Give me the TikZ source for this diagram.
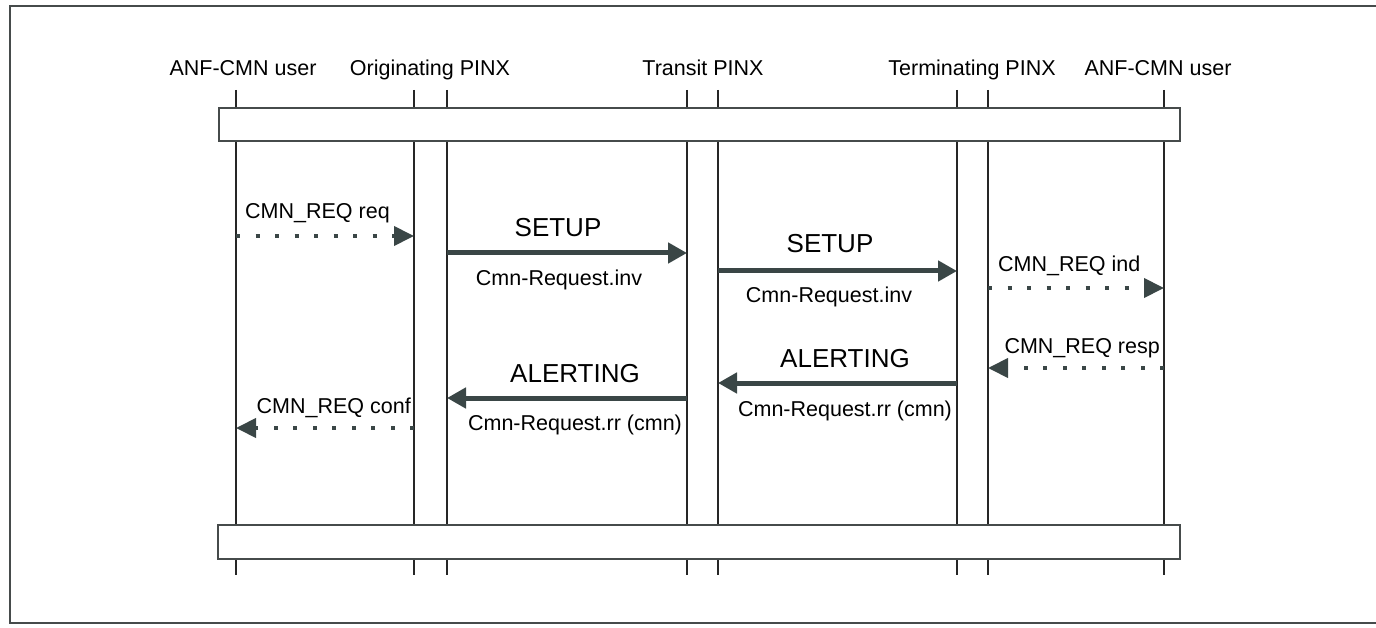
\documentclass[tikz,border=0pt]{standalone}
\usepackage{fontspec}
\setmainfont{Liberation Sans}
\usetikzlibrary{arrows.meta}
\definecolor{arr}{RGB}{58,70,70}
\definecolor{framec}{RGB}{70,75,75}
\begin{document}
\begin{tikzpicture}[x=1pt,y=-1pt,
  lifeline/.style={line width=1.6pt, black!85},
  bar/.style={draw=framec, line width=2.2pt, fill=white},
  msg/.style={draw=arr, line width=5pt, -{Triangle[length=19pt,width=20pt]}},
  dotmsg/.style={draw=arr, line width=4pt, dash pattern=on 4pt off 15.5pt, -{Triangle[length=20pt,width=19pt]}},
  lab/.style={font=\fontsize{21.5}{24}\selectfont, anchor=base, inner sep=0pt},
  big/.style={font=\fontsize{26}{30}\selectfont, anchor=base, inner sep=0pt}]
\useasboundingbox (0,0) rectangle (1376,628);
% frame
\draw[framec, line width=2pt] (1376,6) -- (10,6) -- (10,623) -- (1376,623);
% entity labels
\node[lab] (e1) at (243,76) {ANF-CMN user};
\node[lab] (e2) at (430,76) {Originating PINX};
\node[lab] (e3) at (703,76) {Transit PINX};
\node[lab] (e4) at (972,76) {Terminating PINX};
\node[lab] (e5) at (1158,76) {ANF-CMN user};
% lifelines
\foreach \x/\n in {236/1,414/2,447/3,687/4,718/5,957/6,988/7,1164/8} {
  \coordinate (t\n) at (\x,90);
  \coordinate (b\n) at (\x,575);
  \draw[lifeline] (t\n) -- (b\n);
}
% bars
\draw[bar] (219,108) rectangle (1180,141);
\draw[bar] (218,525) rectangle (1180,559);
% message endpoints
\coordinate (m1a) at (236,236); \coordinate (m1b) at (414,236);
\coordinate (m2a) at (447,253); \coordinate (m2b) at (687,253);
\coordinate (m3a) at (718,271); \coordinate (m3b) at (957,271);
\coordinate (m4a) at (988,288); \coordinate (m4b) at (1164,288);
\coordinate (m5a) at (1164,368); \coordinate (m5b) at (988,368);
\coordinate (m6a) at (957,383); \coordinate (m6b) at (718,383);
\coordinate (m7a) at (687,398); \coordinate (m7b) at (447,398);
\coordinate (m8a) at (414,428); \coordinate (m8b) at (236,428);
% messages
\draw[dotmsg] (m1a) -- (m1b);
\node[lab, anchor=base west] (l1) at (245,219) {CMN\_REQ req};
\draw[msg] (m2a) -- (m2b);
\node[big] (l2) at (558,237) {SETUP};
\node[lab] (l2b) at (559,286) {Cmn-Request.inv};
\draw[msg] (m3a) -- (m3b);
\node[big] (l3) at (830,253) {SETUP};
\node[lab] (l3b) at (829,303) {Cmn-Request.inv};
\draw[dotmsg] (m4a) -- (m4b);
\node[lab, anchor=base west] (l4) at (998,272) {CMN\_REQ ind};
\draw[dotmsg] (m5a) -- (m5b);
\node[lab, anchor=base east] (l5) at (1160,353) {CMN\_REQ resp};
\draw[msg] (m6a) -- (m6b);
\node[big] (l6) at (845,367) {ALERTING};
\node[lab] (l6b) at (845,416) {Cmn-Request.rr (cmn)};
\draw[msg] (m7a) -- (m7b);
\node[big] (l7) at (575,382) {ALERTING};
\node[lab] (l7b) at (575,430) {Cmn-Request.rr (cmn)};
\draw[dotmsg] (m8a) -- (m8b);
\node[lab, anchor=base east] (l8) at (411,413) {CMN\_REQ conf};
\end{tikzpicture}
\end{document}
